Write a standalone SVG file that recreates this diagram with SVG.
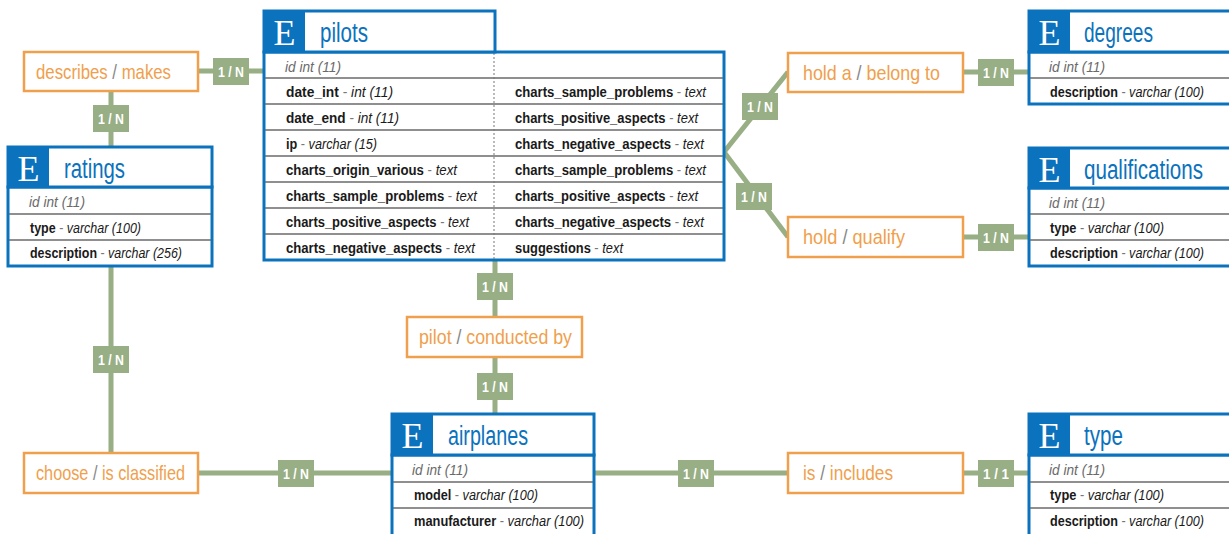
<svg xmlns="http://www.w3.org/2000/svg" width="1229" height="534" viewBox="0 0 1229 534">
<style>
text{font-family:"Liberation Sans","DejaVu Sans",sans-serif}
.box{fill:#fff;stroke:#0b72bd;stroke-width:3}
.eb{fill:#0b72bd}
.E{font-family:"Liberation Serif","DejaVu Serif",serif;font-size:36px;fill:#fff;text-anchor:middle}
.ttl{font-size:27px;fill:#0b72bd}
.rl{stroke:#6a6a6a;stroke-width:1.5}
.dv{stroke:#777;stroke-width:1;stroke-dasharray:2 2}
.f{font-size:14px;fill:#1a1a1a}
.b{font-weight:bold}
.i{font-style:italic}
.g{fill:#777}
.id{font-size:14px;fill:#6a6a6a;font-style:italic}
.rb{fill:#fff;stroke:#f0a04c;stroke-width:2.5}
.rt{font-size:21px;fill:#f0a04c}
.sl{fill:#888}
.bd{fill:#98ae84}
.bt{font-size:15px;font-weight:bold;fill:#fff;text-anchor:middle}
.cn{stroke:#98ae84;stroke-width:5;fill:none}
</style>
<g id="connectors">
<line class="cn" x1="198" y1="71" x2="264" y2="71"/>
<line class="cn" x1="111" y1="91" x2="111" y2="147"/>
<line class="cn" x1="111" y1="266" x2="111" y2="453"/>
<line class="cn" x1="198" y1="473" x2="392" y2="473"/>
<line class="cn" x1="495" y1="260" x2="495" y2="317"/>
<line class="cn" x1="495" y1="357" x2="495" y2="414"/>
<line class="cn" x1="594" y1="473" x2="788" y2="473"/>
<line class="cn" x1="963" y1="473" x2="1029" y2="473"/>
<polyline class="cn" points="724,152 788,72"/>
<polyline class="cn" points="724,152 788,237"/>
<line class="cn" x1="963" y1="72" x2="1029" y2="72"/>
<line class="cn" x1="963" y1="237" x2="1029" y2="237"/>
<g id="badges">
<rect class="bd" x="213" y="58" width="36" height="27"/><text class="bt" x="231" y="77" textLength="26" lengthAdjust="spacingAndGlyphs">1 / N</text>
<rect class="bd" x="93" y="105" width="36" height="27"/><text class="bt" x="111" y="124" textLength="26" lengthAdjust="spacingAndGlyphs">1 / N</text>
<rect class="bd" x="93" y="346" width="36" height="27"/><text class="bt" x="111" y="365" textLength="26" lengthAdjust="spacingAndGlyphs">1 / N</text>
<rect class="bd" x="278" y="460" width="36" height="27"/><text class="bt" x="296" y="479" textLength="26" lengthAdjust="spacingAndGlyphs">1 / N</text>
<rect class="bd" x="477" y="273" width="36" height="27"/><text class="bt" x="495" y="292" textLength="26" lengthAdjust="spacingAndGlyphs">1 / N</text>
<rect class="bd" x="477" y="373" width="36" height="27"/><text class="bt" x="495" y="392" textLength="26" lengthAdjust="spacingAndGlyphs">1 / N</text>
<rect class="bd" x="678" y="460" width="36" height="27"/><text class="bt" x="696" y="479" textLength="26" lengthAdjust="spacingAndGlyphs">1 / N</text>
<rect class="bd" x="978" y="460" width="36" height="27"/><text class="bt" x="996" y="479" textLength="26" lengthAdjust="spacingAndGlyphs">1 / 1</text>
<rect class="bd" x="742" y="93" width="36" height="27"/><text class="bt" x="760" y="112" textLength="26" lengthAdjust="spacingAndGlyphs">1 / N</text>
<rect class="bd" x="736" y="183" width="36" height="27"/><text class="bt" x="754" y="202" textLength="26" lengthAdjust="spacingAndGlyphs">1 / N</text>
<rect class="bd" x="978" y="59" width="36" height="27"/><text class="bt" x="996" y="78" textLength="26" lengthAdjust="spacingAndGlyphs">1 / N</text>
<rect class="bd" x="978" y="224" width="36" height="27"/><text class="bt" x="996" y="243" textLength="26" lengthAdjust="spacingAndGlyphs">1 / N</text>
</g>
</g>
<g id="rel-describes"><rect class="rb" x="24" y="52" width="174" height="39"/><text class="rt" x="36" y="79" textLength="135" lengthAdjust="spacingAndGlyphs">describes <tspan class="sl">/</tspan> makes</text></g>
<g id="rel-holda"><rect class="rb" x="788" y="53" width="175" height="39"/><text class="rt" x="803" y="80" textLength="137" lengthAdjust="spacingAndGlyphs">hold a <tspan class="sl">/</tspan> belong to</text></g>
<g id="rel-hold"><rect class="rb" x="788" y="217" width="175" height="40"/><text class="rt" x="803" y="244" textLength="102" lengthAdjust="spacingAndGlyphs">hold <tspan class="sl">/</tspan> qualify</text></g>
<g id="rel-pilot"><rect class="rb" x="407" y="317" width="175" height="40"/><text class="rt" x="419" y="344" textLength="153" lengthAdjust="spacingAndGlyphs">pilot <tspan class="sl">/</tspan> conducted by</text></g>
<g id="rel-choose"><rect class="rb" x="24" y="453" width="174" height="40"/><text class="rt" x="36" y="480" textLength="149" lengthAdjust="spacingAndGlyphs">choose <tspan class="sl">/</tspan> is classified</text></g>
<g id="rel-is"><rect class="rb" x="788" y="453" width="175" height="40"/><text class="rt" x="803" y="480" textLength="90" lengthAdjust="spacingAndGlyphs">is <tspan class="sl">/</tspan> includes</text></g>

<g id="pilots">
<rect class="box" x="264" y="52" width="460" height="208"/>
<line class="rl" x1="265" y1="78" x2="723" y2="78"/>
<line class="rl" x1="265" y1="104" x2="723" y2="104"/>
<line class="rl" x1="265" y1="130" x2="723" y2="130"/>
<line class="rl" x1="265" y1="156" x2="723" y2="156"/>
<line class="rl" x1="265" y1="182" x2="723" y2="182"/>
<line class="rl" x1="265" y1="208" x2="723" y2="208"/>
<line class="rl" x1="265" y1="234" x2="723" y2="234"/>
<line class="dv" x1="494" y1="53" x2="494" y2="259"/>
<rect class="box" x="264" y="11" width="231" height="41"/>
<rect class="eb" x="264" y="11" width="41" height="41"/>
<text class="E" x="284.5" y="45">E</text>
<text class="ttl" x="320" y="42" textLength="48" lengthAdjust="spacingAndGlyphs">pilots</text>
<text class="id" x="285" y="72" textLength="56" lengthAdjust="spacingAndGlyphs">id int (11)</text>
<text class="f" x="286" y="97" textLength="107" lengthAdjust="spacingAndGlyphs"><tspan class="b">date_int</tspan><tspan class="g"> - </tspan><tspan class="i">int (11)</tspan></text>
<text class="f" x="286" y="123" textLength="113" lengthAdjust="spacingAndGlyphs"><tspan class="b">date_end</tspan><tspan class="g"> - </tspan><tspan class="i">int (11)</tspan></text>
<text class="f" x="286" y="149" textLength="91" lengthAdjust="spacingAndGlyphs"><tspan class="b">ip</tspan><tspan class="g"> - </tspan><tspan class="i">varchar (15)</tspan></text>
<text class="f" x="286" y="175" textLength="171" lengthAdjust="spacingAndGlyphs"><tspan class="b">charts_origin_various</tspan><tspan class="g"> - </tspan><tspan class="i">text</tspan></text>
<text class="f" x="286" y="201" textLength="191" lengthAdjust="spacingAndGlyphs"><tspan class="b">charts_sample_problems</tspan><tspan class="g"> - </tspan><tspan class="i">text</tspan></text>
<text class="f" x="286" y="227" textLength="183" lengthAdjust="spacingAndGlyphs"><tspan class="b">charts_positive_aspects</tspan><tspan class="g"> - </tspan><tspan class="i">text</tspan></text>
<text class="f" x="286" y="253" textLength="189" lengthAdjust="spacingAndGlyphs"><tspan class="b">charts_negative_aspects</tspan><tspan class="g"> - </tspan><tspan class="i">text</tspan></text>
<text class="f" x="515" y="97" textLength="191" lengthAdjust="spacingAndGlyphs"><tspan class="b">charts_sample_problems</tspan><tspan class="g"> - </tspan><tspan class="i">text</tspan></text>
<text class="f" x="515" y="123" textLength="183" lengthAdjust="spacingAndGlyphs"><tspan class="b">charts_positive_aspects</tspan><tspan class="g"> - </tspan><tspan class="i">text</tspan></text>
<text class="f" x="515" y="149" textLength="189" lengthAdjust="spacingAndGlyphs"><tspan class="b">charts_negative_aspects</tspan><tspan class="g"> - </tspan><tspan class="i">text</tspan></text>
<text class="f" x="515" y="175" textLength="191" lengthAdjust="spacingAndGlyphs"><tspan class="b">charts_sample_problems</tspan><tspan class="g"> - </tspan><tspan class="i">text</tspan></text>
<text class="f" x="515" y="201" textLength="183" lengthAdjust="spacingAndGlyphs"><tspan class="b">charts_positive_aspects</tspan><tspan class="g"> - </tspan><tspan class="i">text</tspan></text>
<text class="f" x="515" y="227" textLength="189" lengthAdjust="spacingAndGlyphs"><tspan class="b">charts_negative_aspects</tspan><tspan class="g"> - </tspan><tspan class="i">text</tspan></text>
<text class="f" x="515" y="253" textLength="108" lengthAdjust="spacingAndGlyphs"><tspan class="b">suggestions</tspan><tspan class="g"> - </tspan><tspan class="i">text</tspan></text>
</g>

<g id="ratings">
<rect class="box" x="8" y="187" width="204" height="79"/>
<line class="rl" x1="9" y1="214" x2="211" y2="214"/>
<line class="rl" x1="9" y1="240" x2="211" y2="240"/>
<rect class="box" x="8" y="147" width="204" height="40"/>
<rect class="eb" x="8" y="147" width="41" height="40"/>
<text class="E" x="28.5" y="181">E</text>
<text class="ttl" x="64" y="178" textLength="61" lengthAdjust="spacingAndGlyphs">ratings</text>
<text class="id" x="29" y="207" textLength="56" lengthAdjust="spacingAndGlyphs">id int (11)</text>
<text class="f" x="30" y="233" textLength="111" lengthAdjust="spacingAndGlyphs"><tspan class="b">type</tspan><tspan class="g"> - </tspan><tspan class="i">varchar (100)</tspan></text>
<text class="f" x="30" y="258" textLength="152" lengthAdjust="spacingAndGlyphs"><tspan class="b">description</tspan><tspan class="g"> - </tspan><tspan class="i">varchar (256)</tspan></text>
</g>

<g id="degrees">
<rect class="box" x="1029" y="52" width="220" height="52"/>
<line class="rl" x1="1030" y1="78" x2="1240" y2="78"/>
<rect class="box" x="1029" y="11" width="220" height="41"/>
<rect class="eb" x="1029" y="11" width="41" height="41"/>
<text class="E" x="1049.5" y="45">E</text>
<text class="ttl" x="1084" y="42" textLength="69" lengthAdjust="spacingAndGlyphs">degrees</text>
<text class="id" x="1049" y="72" textLength="56" lengthAdjust="spacingAndGlyphs">id int (11)</text>
<text class="f" x="1050" y="97" textLength="154" lengthAdjust="spacingAndGlyphs"><tspan class="b">description</tspan><tspan class="g"> - </tspan><tspan class="i">varchar (100)</tspan></text>
</g>

<g id="qualifications">
<rect class="box" x="1029" y="188" width="220" height="78"/>
<line class="rl" x1="1030" y1="214" x2="1240" y2="214"/>
<line class="rl" x1="1030" y1="240" x2="1240" y2="240"/>
<rect class="box" x="1029" y="148" width="220" height="40"/>
<rect class="eb" x="1029" y="148" width="41" height="40"/>
<text class="E" x="1049.5" y="182">E</text>
<text class="ttl" x="1084" y="179" textLength="119" lengthAdjust="spacingAndGlyphs">qualifications</text>
<text class="id" x="1049" y="208" textLength="56" lengthAdjust="spacingAndGlyphs">id int (11)</text>
<text class="f" x="1050" y="233" textLength="114" lengthAdjust="spacingAndGlyphs"><tspan class="b">type</tspan><tspan class="g"> - </tspan><tspan class="i">varchar (100)</tspan></text>
<text class="f" x="1050" y="258" textLength="154" lengthAdjust="spacingAndGlyphs"><tspan class="b">description</tspan><tspan class="g"> - </tspan><tspan class="i">varchar (100)</tspan></text>
</g>

<g id="airplanes">
<rect class="box" x="392" y="455" width="202" height="85"/>
<line class="rl" x1="393" y1="482" x2="593" y2="482"/>
<line class="rl" x1="393" y1="508" x2="593" y2="508"/>
<rect class="box" x="392" y="414" width="202" height="41"/>
<rect class="eb" x="392" y="414" width="41" height="41"/>
<text class="E" x="412.5" y="448">E</text>
<text class="ttl" x="448" y="445" textLength="80" lengthAdjust="spacingAndGlyphs">airplanes</text>
<text class="id" x="412" y="475" textLength="56" lengthAdjust="spacingAndGlyphs">id int (11)</text>
<text class="f" x="414" y="500" textLength="124" lengthAdjust="spacingAndGlyphs"><tspan class="b">model</tspan><tspan class="g"> - </tspan><tspan class="i">varchar (100)</tspan></text>
<text class="f" x="414" y="526" textLength="170" lengthAdjust="spacingAndGlyphs"><tspan class="b">manufacturer</tspan><tspan class="g"> - </tspan><tspan class="i">varchar (100)</tspan></text>
</g>

<g id="type">
<rect class="box" x="1029" y="455" width="220" height="85"/>
<line class="rl" x1="1030" y1="482" x2="1240" y2="482"/>
<line class="rl" x1="1030" y1="508" x2="1240" y2="508"/>
<rect class="box" x="1029" y="414" width="220" height="41"/>
<rect class="eb" x="1029" y="414" width="41" height="41"/>
<text class="E" x="1049.5" y="448">E</text>
<text class="ttl" x="1084" y="445" textLength="39" lengthAdjust="spacingAndGlyphs">type</text>
<text class="id" x="1049" y="475" textLength="56" lengthAdjust="spacingAndGlyphs">id int (11)</text>
<text class="f" x="1050" y="500" textLength="114" lengthAdjust="spacingAndGlyphs"><tspan class="b">type</tspan><tspan class="g"> - </tspan><tspan class="i">varchar (100)</tspan></text>
<text class="f" x="1050" y="526" textLength="154" lengthAdjust="spacingAndGlyphs"><tspan class="b">description</tspan><tspan class="g"> - </tspan><tspan class="i">varchar (100)</tspan></text>
</g>
</svg>
